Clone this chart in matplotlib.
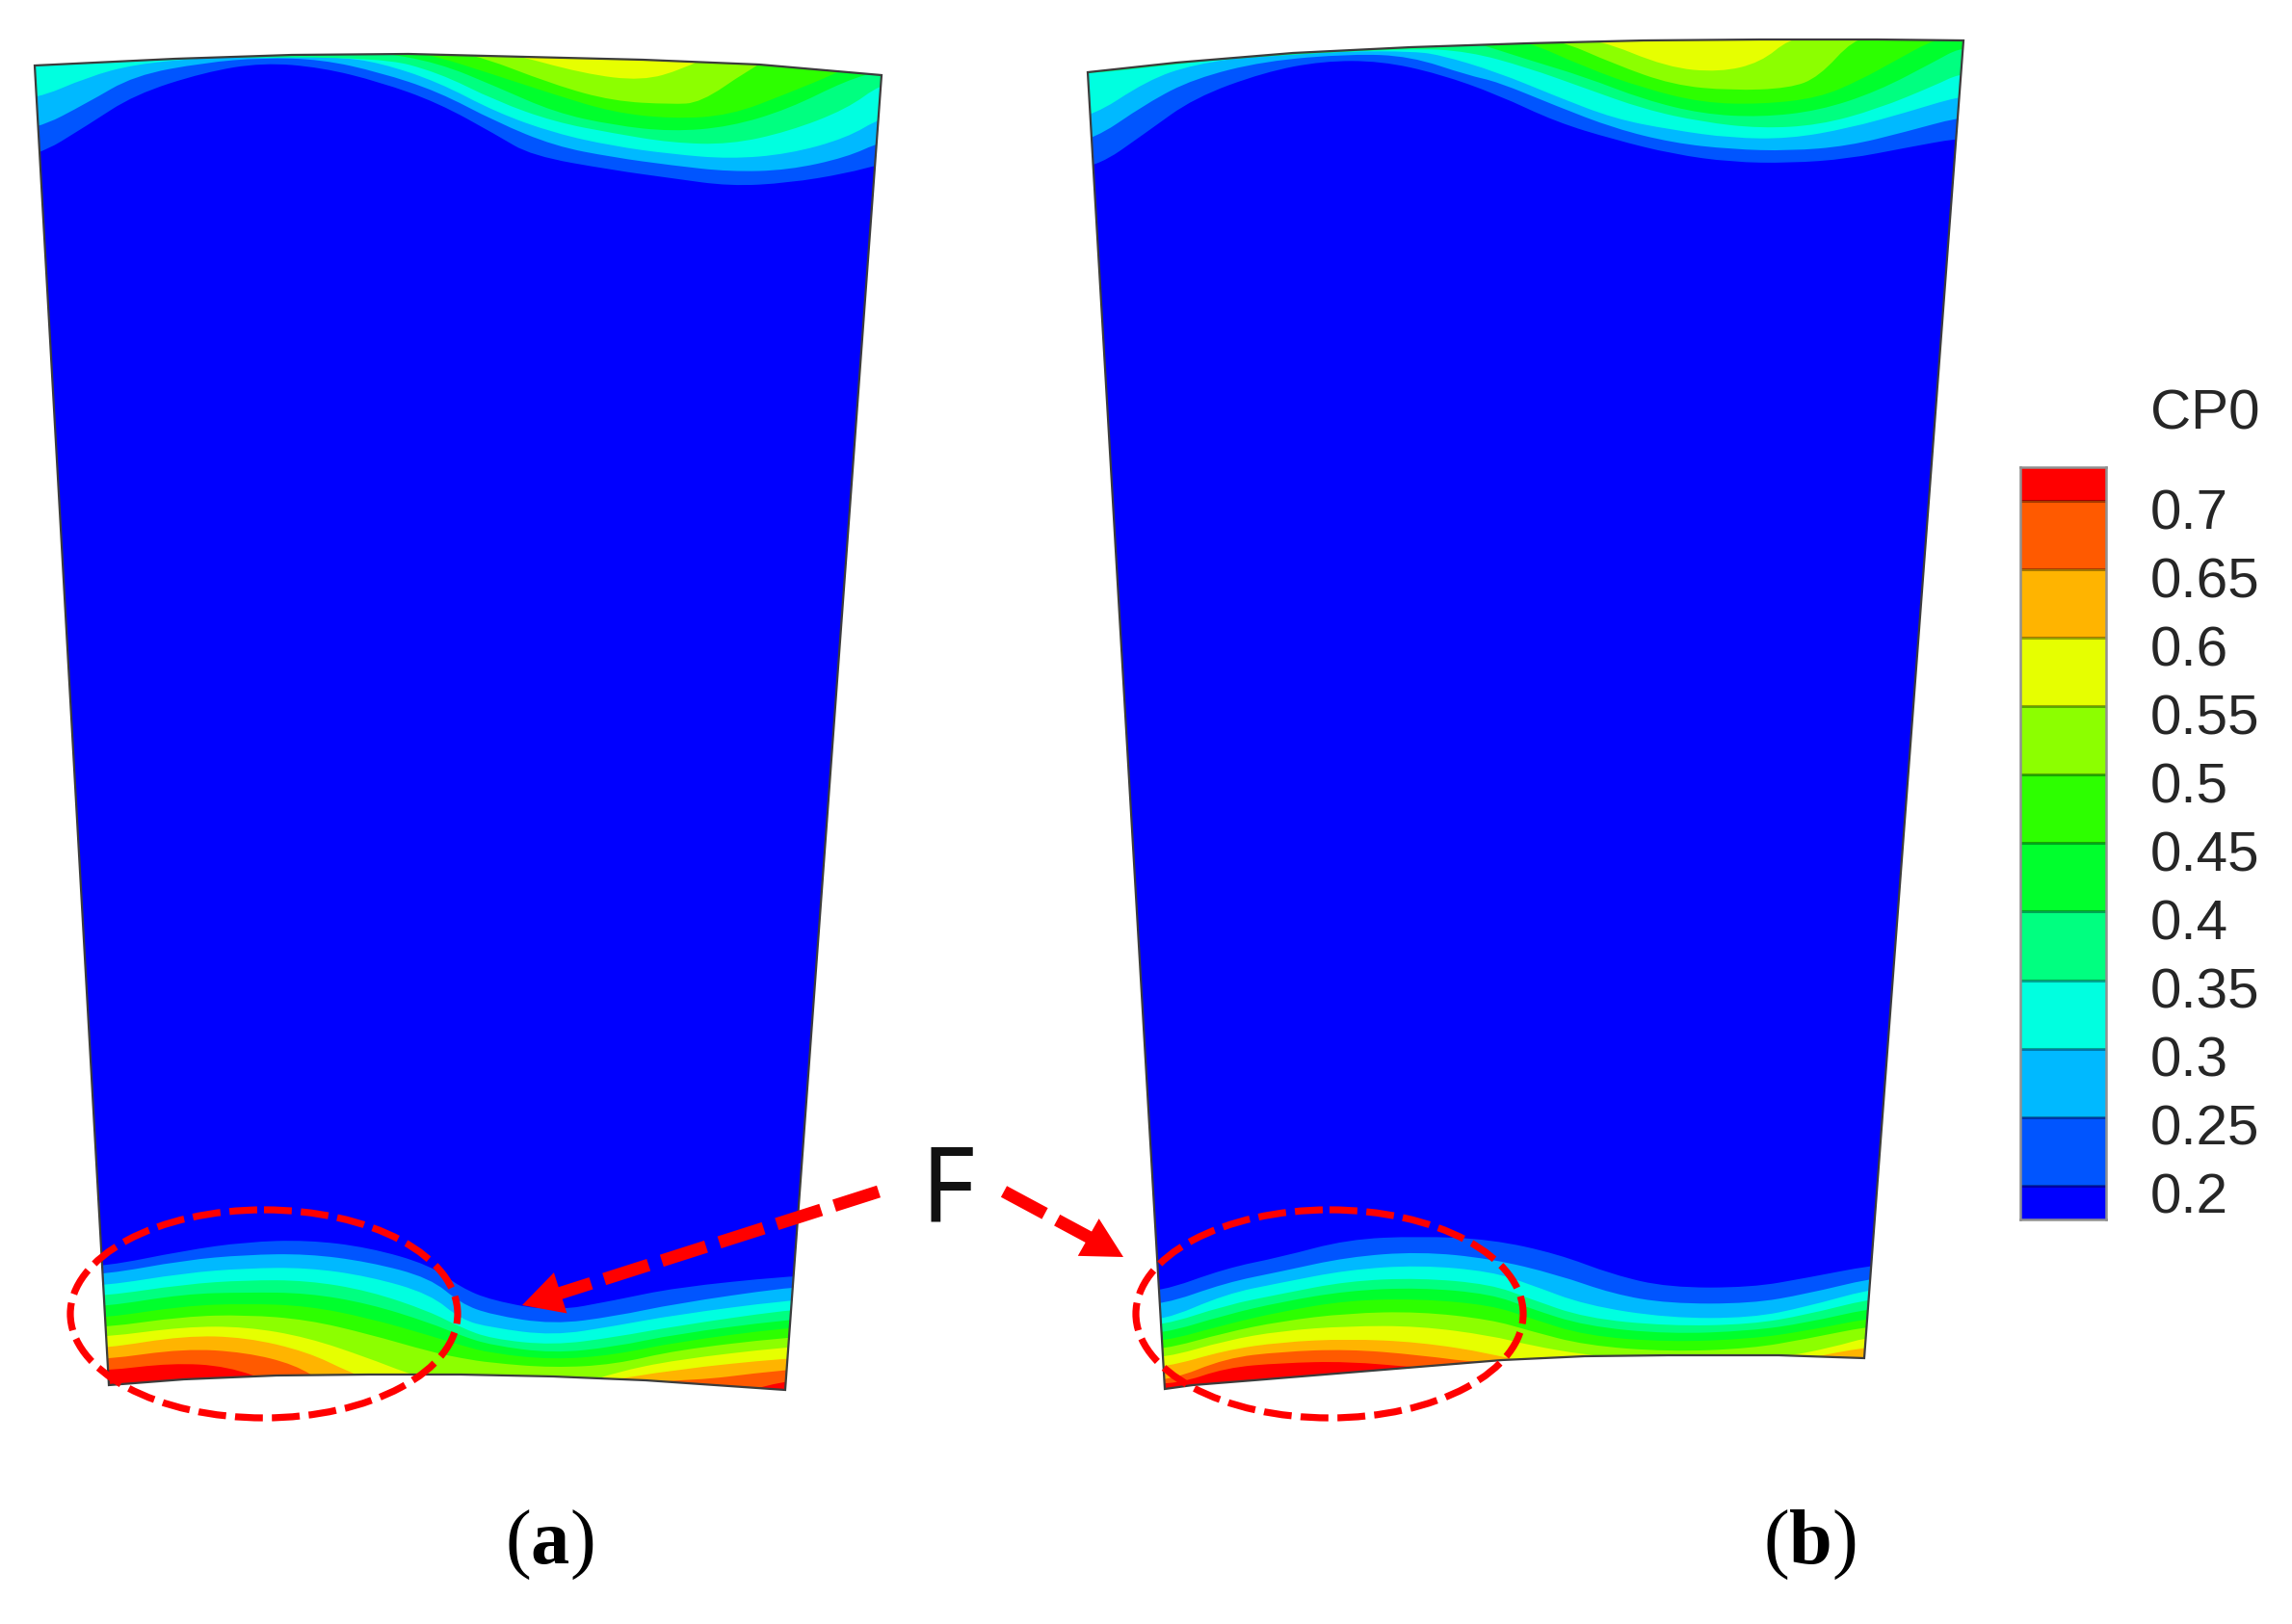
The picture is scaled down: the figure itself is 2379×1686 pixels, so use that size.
import numpy as np
import matplotlib
matplotlib.use('Agg')
import matplotlib.pyplot as plt
from matplotlib.colors import ListedColormap
from matplotlib.patches import Ellipse, PathPatch, Polygon
from matplotlib.path import Path

plt.rcParams['font.family'] = ['Liberation Sans', 'DejaVu Sans']
plt.rcParams['mathtext.fontset'] = 'custom'
plt.rcParams['mathtext.rm'] = 'Liberation Serif'
plt.rcParams['mathtext.bf'] = 'Liberation Serif:bold'

W, H = 2379, 1686

# contour levels and band colours (low to high)
cp0_levels = [0.2, 0.25, 0.3, 0.35, 0.4, 0.45, 0.5, 0.55, 0.6, 0.65, 0.7]
cp0_labels = ['0.2', '0.25', '0.3', '0.35', '0.4', '0.45', '0.5', '0.55', '0.6', '0.65', '0.7']
band_colors = ['#0000ff', '#0055ff', '#00b9ff', '#00ffe0', '#00ff80', '#00ff2d',
               '#2dff00', '#8cff00', '#e6ff00', '#ffb400', '#ff5a00', '#ff0000']

# blade outlines, image pixels
a_top_x = [36, 182, 303, 424, 545, 667, 788, 915]
a_top_y = [68, 61, 57, 56, 59, 62, 67, 78]
a_bot_x = [815, 670, 574, 478, 383, 287, 191, 113]
a_bot_y = [1443, 1433, 1429, 1427, 1427, 1428, 1432, 1438]
b_top_x = [1129, 1221, 1342, 1464, 1585, 1706, 1827, 1948, 2038]
b_top_y = [75, 65, 55, 49, 45, 42, 41, 41, 42]
b_bot_x = [1935, 1846, 1732, 1645, 1559, 1473, 1387, 1301, 1238, 1209]
b_bot_y = [1410, 1407, 1407, 1408, 1412, 1419, 1426, 1433, 1438, 1442]

# x is in crop units, y is 3x image pixels, one list per level from 0.2/0.25 up
a_tip_x = [
    [60, 150, 230, 350, 450, 550, 650, 750, 850, 910, 1050, 1150, 1250, 1350, 1450, 1510],
    [60, 150, 230, 350, 450, 550, 650, 750, 850, 950, 1050, 1150, 1250, 1350, 1450, 1510],
    [60, 150, 230, 350, 450, 580, 650, 750, 850, 950, 1050, 1150, 1250, 1350, 1450, 1510],
    [60, 150, 350, 650, 750, 850, 950, 1050, 1150, 1250, 1350, 1450, 1510],
    [640, 750, 850, 950, 1050, 1150, 1250, 1350, 1450, 1510],
    [720, 850, 950, 1050, 1150, 1250, 1350, 1430, 1510],
    [800, 950, 1050, 1150, 1200, 1280, 1340],
    [860, 1000, 1100, 1170, 1230],
]
a_tip_y = [
    [430, 330, 235, 165, 135, 150, 195, 260, 360, 425, 470, 495, 520, 510, 480, 450],
    [345, 260, 175, 135, 120, 125, 165, 225, 320, 395, 430, 455, 475, 470, 430, 380],
    [250, 180, 140, 120, 110, 118, 135, 195, 290, 355, 395, 420, 435, 420, 370, 305],
    [100, 120, 120, 118, 165, 255, 320, 355, 385, 390, 350, 280, 200],
    [100, 135, 210, 290, 330, 350, 335, 280, 190, 160],
    [100, 175, 235, 290, 310, 300, 230, 170, 100],
    [100, 205, 255, 265, 260, 160, 100],
    [100, 170, 192, 155, 100],
]
a_hub_x = [
    [170, 300, 400, 500, 600, 700, 750, 800, 900, 1000, 1100, 1280],
    [170, 300, 400, 500, 600, 700, 750, 800, 900, 1000, 1100, 1280],
    [170, 300, 400, 500, 600, 700, 750, 800, 900, 1000, 1100, 1280],
    [170, 300, 400, 500, 600, 700, 750, 800, 900, 1000, 1100, 1280],
    [170, 300, 400, 500, 600, 700, 750, 800, 900, 1000, 1100, 1280],
    [170, 300, 400, 500, 600, 700, 750, 800, 900, 1000, 1100, 1280],
    [170, 300, 400, 500, 600, 700, 750, 800, 900, 1000, 1100, 1280],
    [170, 300, 400, 500, 600, 660, 720, 950, 1000, 1100, 1280],
    [170, 300, 400, 500, 570, 620, 960, 1100, 1280],
    [170, 300, 400, 480, 530, 1090, 1280],
    [170, 280, 370, 450, 1200, 1280],
]
a_hub_y = [
    [405, 355, 328, 322, 345, 400, 470, 510, 545, 510, 470, 435],
    [430, 385, 368, 365, 390, 440, 520, 555, 585, 560, 520, 470],
    [465, 425, 410, 408, 435, 490, 570, 595, 620, 590, 555, 510],
    [497, 460, 447, 448, 480, 545, 595, 630, 650, 625, 590, 540],
    [530, 490, 485, 487, 520, 580, 620, 650, 675, 655, 615, 570],
    [565, 527, 520, 527, 565, 620, 650, 675, 695, 680, 640, 595],
    [595, 560, 555, 570, 615, 670, 690, 705, 720, 710, 665, 625],
    [625, 592, 592, 625, 690, 735, 770, 770, 735, 695, 655],
    [660, 620, 625, 670, 735, 770, 770, 725, 690],
    [695, 660, 672, 710, 770, 770, 725],
    [730, 705, 715, 770, 800, 760],
]
b_tip_x = [
    [60, 150, 230, 350, 450, 550, 650, 750, 850, 950, 1050, 1150, 1250, 1350, 1450, 1540],
    [50, 150, 230, 350, 500, 600, 700, 750, 850, 950, 1050, 1150, 1250, 1350, 1450, 1540],
    [50, 150, 230, 350, 500, 600, 650, 750, 850, 950, 1050, 1150, 1250, 1350, 1450, 1540],
    [50, 150, 300, 600, 700, 800, 900, 1000, 1100, 1200, 1300, 1400, 1500, 1540],
    [690, 800, 900, 1000, 1100, 1200, 1300, 1400, 1500, 1540],
    [790, 900, 1000, 1100, 1200, 1300, 1370, 1430, 1500],
    [850, 950, 1050, 1150, 1250, 1300, 1360],
    [920, 1040, 1130, 1200, 1250],
]
b_tip_y = [
    [465, 350, 245, 165, 130, 130, 170, 235, 320, 375, 420, 445, 448, 435, 400, 370],
    [385, 260, 185, 130, 108, 115, 175, 195, 270, 340, 385, 405, 410, 395, 350, 305],
    [310, 190, 140, 110, 100, 100, 110, 165, 240, 310, 345, 370, 372, 340, 290, 240],
    [170, 150, 120, 90, 100, 150, 215, 280, 320, 340, 330, 280, 205, 170],
    [60, 125, 180, 250, 295, 305, 285, 225, 130, 90],
    [60, 150, 215, 260, 265, 245, 190, 130, 60],
    [60, 140, 205, 222, 215, 180, 60],
    [60, 150, 165, 135, 60],
]
b_hub_x = [
    [180, 300, 400, 520, 650, 780, 900, 1000, 1100, 1250, 1350, 1470],
    [185, 300, 400, 520, 650, 780, 900, 1000, 1100, 1250, 1350, 1470],
    [185, 300, 400, 520, 650, 780, 850, 950, 1100, 1250, 1350, 1465],
    [185, 300, 400, 520, 650, 780, 850, 950, 1100, 1250, 1350, 1465],
    [185, 300, 400, 520, 650, 780, 850, 950, 1100, 1250, 1350, 1465],
    [185, 300, 400, 520, 650, 780, 850, 950, 1100, 1250, 1350, 1465],
    [185, 300, 400, 520, 650, 780, 850, 950, 1100, 1250, 1350, 1465],
    [190, 300, 400, 520, 650, 780, 850, 950, 1050, 1300, 1400, 1460],
    [190, 300, 400, 520, 650, 780, 880, 1300, 1350, 1460],
    [200, 300, 400, 520, 650, 780, 1430, 1470],
    [215, 300, 400, 520, 650],
]
b_hub_y = [
    [485, 410, 375, 320, 310, 320, 365, 430, 470, 470, 440, 400],
    [525, 455, 420, 375, 358, 380, 430, 490, 520, 520, 490, 440],
    [575, 490, 455, 415, 400, 420, 460, 525, 565, 565, 530, 475],
    [590, 525, 490, 450, 440, 460, 505, 565, 590, 585, 555, 505],
    [615, 555, 515, 480, 470, 490, 535, 590, 615, 605, 580, 535],
    [640, 585, 545, 510, 505, 525, 565, 620, 640, 630, 605, 565],
    [665, 610, 575, 550, 545, 570, 605, 650, 670, 660, 630, 590],
    [690, 635, 605, 590, 590, 620, 650, 680, 695, 690, 655, 625],
    [720, 665, 640, 630, 640, 675, 720, 720, 690, 655],
    [760, 690, 670, 662, 680, 710, 720, 670],
    [770, 720, 705, 700, 720],
]

# crop origin and scale for each of the crops above: x0, y0, x scale
a_tip_crop = (0, 20, 1.65)
a_hub_crop = (0, 1180, 1.568)
b_tip_crop = (1100, 20, 1.65)
b_hub_crop = (1100, 1180, 1.742)


def crop_to_px(x, y, crop):
    x0, y0, sx = crop
    return x0 + np.array(x) / sx, y0 + np.array(y) / 3.0


def band_path(px, py, far_y):
    # quadratic segments through the midpoints so the level line is not faceted
    px = np.r_[px[0] - 25, px, px[-1] + 25]
    py = np.r_[py[0], py, py[-1]]
    verts = [(px[0], far_y), (px[0], py[0])]
    codes = [Path.MOVETO, Path.LINETO]
    for i in range(1, len(px) - 1):
        verts += [(px[i], py[i]), ((px[i] + px[i + 1]) / 2, (py[i] + py[i + 1]) / 2)]
        codes += [Path.CURVE3, Path.CURVE3]
    verts += [(px[-1], py[-1]), (px[-1], far_y), (px[0], far_y)]
    codes += [Path.LINETO, Path.LINETO, Path.CLOSEPOLY]
    return Path(verts, codes)


def draw_blade(ax, top_x, top_y, bot_x, bot_y, tip, hub):
    outline = np.column_stack([top_x + bot_x, top_y + bot_y])
    clip = Polygon(outline, closed=True, transform=ax.transData, fc='none', ec='none')
    ax.add_patch(clip)
    ax.add_patch(Polygon(outline, closed=True, fc=band_colors[0], ec='none', zorder=1))

    # paint low to high so every band covers the one below it
    for i, (xs, ys) in enumerate(zip(tip[0], tip[1])):
        px, py = crop_to_px(xs, ys, tip[2])
        art = ax.add_patch(PathPatch(band_path(px, py, 0), fc=band_colors[i + 1], lw=0, zorder=2 + i))
        art.set_clip_path(clip)
    for i, (xs, ys) in enumerate(zip(hub[0], hub[1])):
        px, py = crop_to_px(xs, ys, hub[2])
        art = ax.add_patch(PathPatch(band_path(px, py, H), fc=band_colors[i + 1], lw=0, zorder=2 + i))
        art.set_clip_path(clip)

    ax.add_patch(Polygon(outline, closed=True, fc='none', ec='#3c3c3c', lw=1.6, zorder=20))


fig = plt.figure(figsize=(W / 100, H / 100), dpi=100)
ax = fig.add_axes([0, 0, 1, 1])
ax.set_xlim(0, W)
ax.set_ylim(H, 0)
ax.axis('off')

draw_blade(ax, a_top_x, a_top_y, a_bot_x, a_bot_y, (a_tip_x, a_tip_y, a_tip_crop), (a_hub_x, a_hub_y, a_hub_crop))
draw_blade(ax, b_top_x, b_top_y, b_bot_x, b_bot_y, (b_tip_x, b_tip_y, b_tip_crop), (b_hub_x, b_hub_y, b_hub_crop))

# dashed ellipses around the hub corner
for cx in (274, 1380):
    ax.add_patch(Ellipse((cx, 1364), 402, 216, fc='none', ec='#ff0000', lw=5.2,
                         ls=(0, (4.0, 1.3)), zorder=30))

# F and its dashed arrows
ax.text(956, 1240, 'F', family='Noto Sans', weight='light', fontsize=78, color='#111111',
        ha='left', va='center', zorder=30)
ax.plot([912, 580], [1237, 1343], color='#ff0000', lw=9.4, ls=(0, (3.7, 1.1)),
        dash_capstyle='butt', zorder=30)
ax.annotate('', xy=(542, 1355), xytext=(592, 1339), zorder=31,
            arrowprops=dict(arrowstyle='-|>,head_length=1.5,head_width=0.8', color='#ff0000',
                            lw=0, mutation_scale=20, shrinkA=0, shrinkB=0))
ax.plot([1042, 1135], [1237, 1287], color='#ff0000', lw=9.4, ls=(0, (3.7, 1.1)),
        dash_capstyle='butt', zorder=30)
ax.annotate('', xy=(1166, 1305), xytext=(1120, 1279), zorder=31,
            arrowprops=dict(arrowstyle='-|>,head_length=1.5,head_width=0.8', color='#ff0000',
                            lw=0, mutation_scale=20, shrinkA=0, shrinkB=0))

# panel labels
ax.text(570, 1604, r'($\mathbf{a}$)', family='Liberation Serif', fontsize=58, ha='center', va='center')
ax.text(1878, 1604, r'($\mathbf{b}$)', family='Liberation Serif', fontsize=58, ha='center', va='center')

# legend bar
cb_left, cb_right = 2097, 2186
cb_top, cb_bottom = 485, 1266
cax = fig.add_axes([cb_left / W, 1 - cb_bottom / H, (cb_right - cb_left) / W, (cb_bottom - cb_top) / H])
edges = [cp0_levels[0] - 0.025] + cp0_levels + [cp0_levels[-1] + 0.025]
cax.pcolormesh([0, 1], edges, np.arange(len(band_colors)).reshape(-1, 1),
               cmap=ListedColormap(band_colors), shading='flat')
cax.hlines(cp0_levels, 0, 1, color='black', alpha=0.35, lw=2.2)
cax.set_xticks([])
cax.set_yticks([])
for s in cax.spines.values():
    s.set_color('#909090')
    s.set_linewidth(1.8)
for lev, lab in zip(cp0_levels, cp0_labels):
    cax.annotate(lab, xy=(1, lev), xycoords=('axes fraction', 'data'), xytext=(33, -10),
                 textcoords='offset points', fontsize=42, color='#262626', va='center', ha='left')
ax.text(2232, 431, 'CP0', fontsize=42, color='#262626', va='center', ha='left')

fig.savefig('out.png', dpi=100, facecolor='white')
